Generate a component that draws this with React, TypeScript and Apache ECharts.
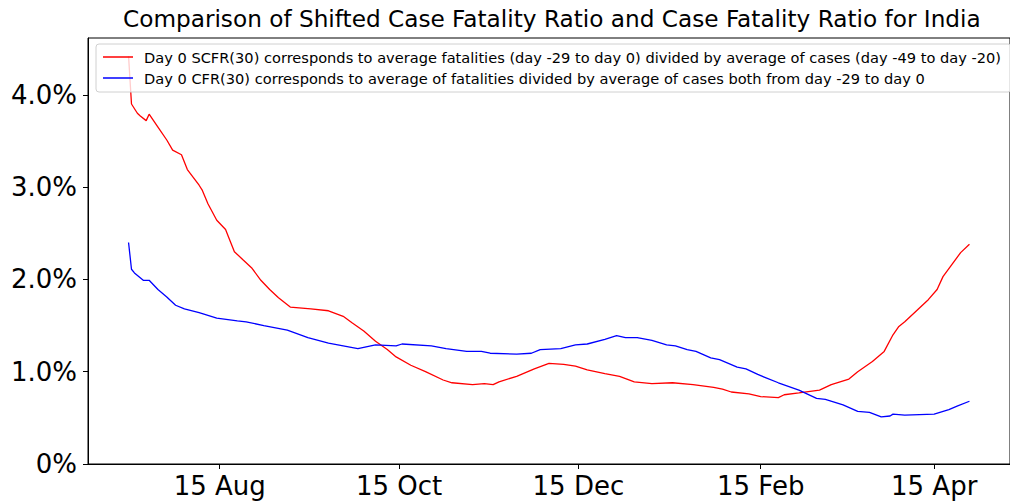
import React, { useEffect, useRef } from "react";
import * as echarts from "echarts";

const titleText = "Comparison of Shifted Case Fatality Ratio and Case Fatality Ratio for India";
const scfrName = "Day 0 SCFR(30) corresponds to average fatalities (day -29 to day 0) divided by average of cases (day -49 to day -20)";
const cfrName = "Day 0 CFR(30) corresponds to average of fatalities divided by average of cases both from day -29 to day 0";

const xTickDates = ["2020-08-15", "2020-10-15", "2020-12-15", "2021-02-15", "2021-04-15"];
const xTickLabels = ["15 Aug", "15 Oct", "15 Dec", "15 Feb", "15 Apr"];
const yTicks = [0, 1, 2, 3, 4];

const scfrDates = [
  "2020-07-15", "2020-07-16", "2020-07-18", "2020-07-19", "2020-07-21", "2020-07-22", "2020-07-25", "2020-07-28",
  "2020-07-30", "2020-08-02", "2020-08-04", "2020-08-08", "2020-08-09", "2020-08-11", "2020-08-14", "2020-08-17",
  "2020-08-18", "2020-08-20", "2020-08-23", "2020-08-26", "2020-08-29", "2020-09-01", "2020-09-04", "2020-09-08",
  "2020-09-15", "2020-09-21", "2020-09-26", "2020-09-29", "2020-10-03", "2020-10-07", "2020-10-11", "2020-10-14",
  "2020-10-19", "2020-10-24", "2020-10-30", "2020-11-02", "2020-11-09", "2020-11-13", "2020-11-16", "2020-11-18",
  "2020-11-24", "2020-11-30", "2020-12-05", "2020-12-10", "2020-12-14", "2020-12-18", "2020-12-24", "2020-12-29",
  "2021-01-03", "2021-01-09", "2021-01-16", "2021-01-23", "2021-01-30", "2021-02-02", "2021-02-05", "2021-02-11",
  "2021-02-15", "2021-02-21", "2021-02-23", "2021-02-28", "2021-03-07", "2021-03-11", "2021-03-17", "2021-03-20",
  "2021-03-25", "2021-03-29", "2021-04-01", "2021-04-03", "2021-04-05", "2021-04-10", "2021-04-13", "2021-04-16",
  "2021-04-18", "2021-04-21", "2021-04-24", "2021-04-27",
];
const scfrValues = [
  4.42, 3.9, 3.8, 3.77, 3.72, 3.79, 3.65, 3.51,
  3.4, 3.35, 3.19, 3.02, 2.97, 2.82, 2.64, 2.54,
  2.46, 2.3, 2.21, 2.12, 1.99, 1.89, 1.8, 1.7,
  1.68, 1.66, 1.6, 1.53, 1.44, 1.33, 1.24, 1.16,
  1.07, 1.0, 0.91, 0.88, 0.86, 0.87, 0.86, 0.89,
  0.95, 1.03, 1.09, 1.08, 1.06, 1.02, 0.98, 0.95,
  0.89, 0.87, 0.88, 0.86, 0.83, 0.81, 0.78, 0.76,
  0.73, 0.72, 0.75, 0.77, 0.8, 0.86, 0.92, 1.0,
  1.11, 1.22, 1.4, 1.49, 1.54, 1.69, 1.78, 1.89,
  2.03, 2.16, 2.29, 2.38,
];

const cfrDates = [
  "2020-07-15", "2020-07-16", "2020-07-17", "2020-07-20", "2020-07-22", "2020-07-25", "2020-07-28", "2020-07-31",
  "2020-08-03", "2020-08-08", "2020-08-14", "2020-08-21", "2020-08-24", "2020-08-30", "2020-09-07", "2020-09-14",
  "2020-09-21", "2020-09-26", "2020-10-01", "2020-10-07", "2020-10-14", "2020-10-16", "2020-10-26", "2020-10-31",
  "2020-11-07", "2020-11-12", "2020-11-15", "2020-11-24", "2020-11-29", "2020-12-02", "2020-12-09", "2020-12-14",
  "2020-12-18", "2020-12-24", "2020-12-28", "2020-12-31", "2021-01-04", "2021-01-09", "2021-01-14", "2021-01-17",
  "2021-01-21", "2021-01-24", "2021-01-29", "2021-02-01", "2021-02-07", "2021-02-10", "2021-02-14", "2021-02-21",
  "2021-02-28", "2021-03-06", "2021-03-09", "2021-03-15", "2021-03-20", "2021-03-24", "2021-03-28", "2021-03-31",
  "2021-04-01", "2021-04-05", "2021-04-15", "2021-04-20", "2021-04-23", "2021-04-27",
];
const cfrValues = [
  2.4, 2.11, 2.07, 1.99, 1.99, 1.89, 1.81, 1.72,
  1.68, 1.64, 1.58, 1.55, 1.54, 1.5, 1.45, 1.37,
  1.31, 1.28, 1.25, 1.29, 1.28, 1.3, 1.28, 1.25,
  1.22, 1.22, 1.2, 1.19, 1.2, 1.24, 1.25, 1.29,
  1.3, 1.35, 1.39, 1.37, 1.37, 1.34, 1.29, 1.28,
  1.24, 1.22, 1.15, 1.13, 1.05, 1.03, 0.97, 0.88,
  0.8, 0.71, 0.7, 0.64, 0.57, 0.56, 0.51, 0.52,
  0.54, 0.53, 0.54, 0.59, 0.63, 0.68,
];

const toTs = (s: string) => {
  const [y, m, d] = s.split("-").map(Number);
  return Date.UTC(y, m - 1, d);
};

export default function App() {
  const ref = useRef<HTMLDivElement>(null);
  useEffect(() => {
    if (!ref.current) return;
    const chart = echarts.init(ref.current, undefined, { renderer: "svg" });
    const tickTs = xTickDates.map(toTs);
    const font = "DejaVu Sans";
    chart.setOption({
      animation: false,
      backgroundColor: "#ffffff",
      title: {
        text: titleText,
        left: 123,
        top: 7,
        padding: 0,
        textStyle: { fontFamily: font, fontSize: 23.2, fontWeight: "normal", color: "#000" },
      },
      legend: {
        orient: "vertical",
        left: 96,
        top: 44,
        align: "left",
        padding: [5, 10, 6, 7],
        itemGap: 5,
        itemWidth: 30,
        itemHeight: 1.5,
        icon: "rect",
        backgroundColor: "rgba(255,255,255,0.8)",
        borderColor: "#d0d0d0",
        borderWidth: 1,
        borderRadius: 3,
        textStyle: { fontFamily: font, fontSize: 14.6, color: "#000", lineHeight: 16, padding: [0, 0, 0, 6] },
        data: [scfrName, cfrName],
      },
      grid: {
        left: 88,
        top: 38,
        width: 931,
        height: 426,
        show: true,
        borderColor: "#000",
        borderWidth: 1,
        backgroundColor: "transparent",
      },
      xAxis: {
        type: "value",
        min: Date.UTC(2020, 6, 1, 5),
        max: Date.UTC(2021, 4, 10, 19),
        splitLine: { show: false },
        axisLine: { show: true, lineStyle: { color: "#000", width: 1 } },
        axisTick: { show: true, length: 5, lineStyle: { color: "#000" }, customValues: tickTs },
        axisLabel: {
          customValues: tickTs,
          margin: 9,
          fontFamily: font,
          fontSize: 26,
          color: "#000",
          formatter: (v: number) => {
            const i = tickTs.indexOf(v);
            return i >= 0 ? xTickLabels[i] : "";
          },
        },
      },
      yAxis: {
        type: "value",
        min: 0,
        max: 4.615,
        splitLine: { show: false },
        axisLine: { show: true, lineStyle: { color: "#000", width: 1 } },
        axisTick: { show: true, length: 5, lineStyle: { color: "#000" }, customValues: yTicks },
        axisLabel: {
          customValues: yTicks,
          margin: 11,
          fontFamily: font,
          fontSize: 26,
          color: "#000",
          formatter: (v: number) => (v === 0 ? "0%" : v.toFixed(1) + "%"),
        },
      },
      series: [
        {
          name: scfrName,
          type: "line",
          showSymbol: false,
          symbol: "none",
          lineStyle: { color: "#ff0000", width: 1.3 },
          itemStyle: { color: "#ff0000" },
          data: scfrDates.map((d, i) => [toTs(d), scfrValues[i]]),
        },
        {
          name: cfrName,
          type: "line",
          showSymbol: false,
          symbol: "none",
          lineStyle: { color: "#0000ff", width: 1.3 },
          itemStyle: { color: "#0000ff" },
          data: cfrDates.map((d, i) => [toTs(d), cfrValues[i]]),
        },
      ],
    });
    return () => chart.dispose();
  }, []);
  return (
    <div
      ref={ref}
      style={{ position: "fixed", left: 0, top: 0, width: 1010, height: 502, background: "#fff" }}
    />
  );
}
